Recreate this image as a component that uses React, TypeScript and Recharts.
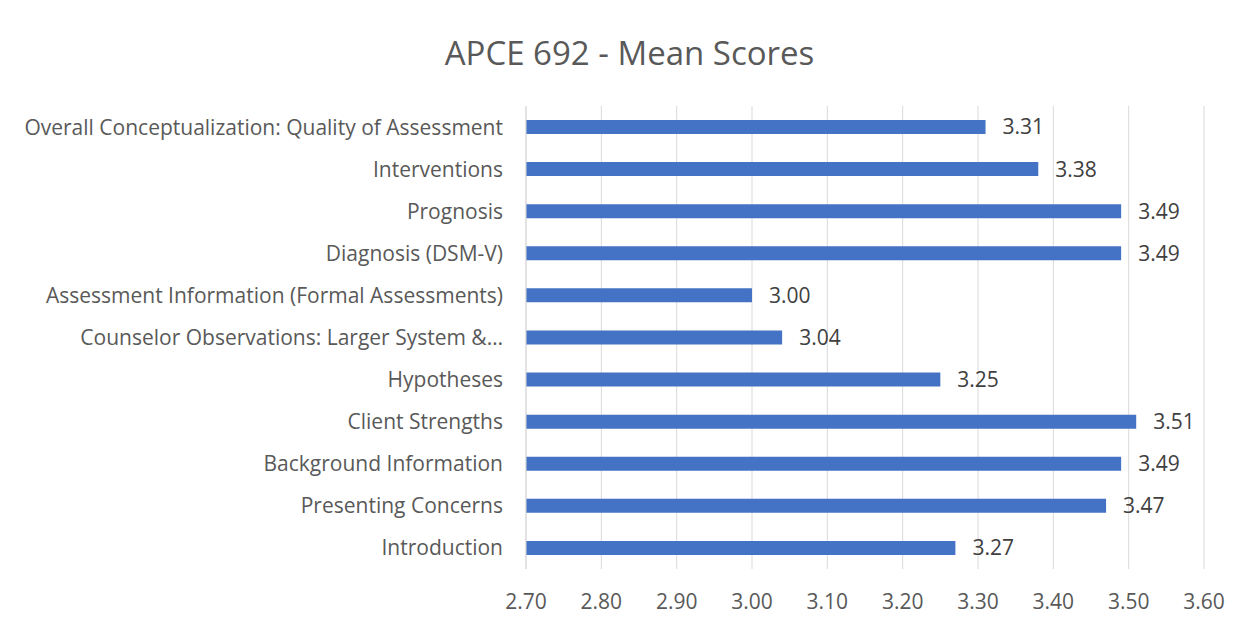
import React from 'react';
import { BarChart, Bar, XAxis, YAxis, CartesianGrid, LabelList } from 'recharts';

const categories = [
  'Overall Conceptualization: Quality of Assessment',
  'Interventions',
  'Prognosis',
  'Diagnosis (DSM-V)',
  'Assessment Information (Formal Assessments)',
  'Counselor Observations: Larger System &…',
  'Hypotheses',
  'Client Strengths',
  'Background Information',
  'Presenting Concerns',
  'Introduction',
];

const meanScores = [3.31, 3.38, 3.49, 3.49, 3.0, 3.04, 3.25, 3.51, 3.49, 3.47, 3.27];

const xTicks = [2.7, 2.8, 2.9, 3.0, 3.1, 3.2, 3.3, 3.4, 3.5, 3.6];

const data = categories.map((name, i) => ({ name, score: meanScores[i] }));

const FONT = '"Open Sans", sans-serif';

export default function App() {
  return (
    <div
      style={{
        position: 'relative',
        top: -1,
        left: -1,
        width: 1235,
        height: 625,
        border: '1px solid #d9d9d9',
        background: '#fff',
        fontFamily: FONT,
      }}
    >
      <div
        style={{
          position: 'absolute',
          top: 22,
          left: 0,
          width: '100%',
          textAlign: 'center',
          fontSize: 33,
          color: '#595959',
          paddingLeft: 8,
          boxSizing: 'border-box',
        }}
      >
        APCE 692 - Mean Scores
      </div>
      <BarChart
        width={1235}
        height={625}
        data={data}
        layout="vertical"
        margin={{ top: 98, right: 39, bottom: 26, left: 0 }}
        barSize={14}
      >
        <CartesianGrid horizontal={false} stroke="#d9d9d9" />
        <XAxis
          type="number"
          domain={[2.7, 3.6]}
          ticks={xTicks}
          tickFormatter={(v: number) => v.toFixed(2)}
          axisLine={false}
          tickLine={false}
          tickSize={0}
          tickMargin={25}
          height={38}
          tick={{ fill: '#595959', fontSize: 21, fontFamily: FONT }}
        />
        <YAxis
          type="category"
          dataKey="name"
          width={518}
          axisLine={{ stroke: '#d9d9d9' }}
          tickLine={false}
          tickSize={0}
          tickMargin={23}
          interval={0}
          tick={{ fill: '#595959', fontSize: 21, fontFamily: FONT }}
        />
        <Bar dataKey="score" fill="#4472C4" isAnimationActive={false}>
          <LabelList
            dataKey="score"
            position="right"
            offset={17}
            formatter={(v: number) => v.toFixed(2)}
            style={{ fill: '#404040', fontSize: 21, fontFamily: FONT }}
          />
        </Bar>
      </BarChart>
    </div>
  );
}
